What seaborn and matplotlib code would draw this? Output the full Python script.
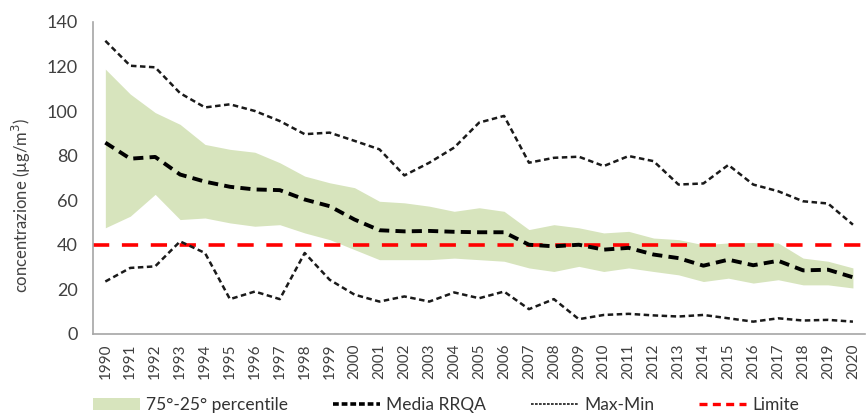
import numpy as np
import pandas as pd
import matplotlib
matplotlib.use("Agg")
import matplotlib.pyplot as plt
from matplotlib.patches import Patch
from matplotlib.lines import Line2D
import seaborn as sns

# Annual NO2 concentrations across the regional monitoring network (µg/m³)
years = list(range(1990, 2021))
media = [85.8, 78.6, 79.4, 71.5, 68.3, 66.0, 64.8, 64.5, 60.3, 57.3, 51.3, 46.5, 46.0,
         46.2, 45.8, 45.6, 45.6, 40.0, 39.3, 40.0, 37.8, 38.6, 35.6, 34.0, 30.6,
         33.3, 30.8, 32.8, 28.5, 28.8, 25.4]
p75 = [118.8, 107.6, 99.3, 94.0, 85.0, 82.8, 81.5, 76.8, 70.8, 67.8, 65.6, 59.5, 58.8,
       57.3, 55.0, 56.6, 55.0, 46.8, 49.0, 47.6, 45.3, 46.0, 43.0, 42.3, 40.0,
       40.8, 41.0, 40.8, 34.0, 32.6, 29.6]
p25 = [47.6, 52.8, 62.6, 51.3, 52.0, 49.8, 48.3, 49.0, 45.3, 42.3, 37.8, 33.3, 33.3,
       33.3, 34.0, 33.3, 32.6, 29.6, 28.0, 30.3, 28.0, 29.6, 28.0, 26.5, 23.5,
       25.0, 22.8, 24.3, 22.0, 22.0, 20.6]
massimo = [131.5, 120.3, 119.6, 108.0, 101.6, 103.0, 100.0, 95.5, 89.6, 90.3, 86.6, 82.8, 71.1,
           76.8, 83.6, 94.8, 97.8, 76.8, 79.0, 79.5, 75.3, 79.8, 77.5, 67.0, 67.5,
           75.8, 67.0, 64.0, 59.5, 58.5, 49.0]
minimo = [23.5, 29.6, 30.3, 41.5, 36.3, 15.6, 19.0, 15.6, 36.3, 24.3, 17.6, 14.5, 16.8,
          14.5, 18.6, 16.0, 19.0, 11.1, 15.6, 6.6, 8.5, 9.0, 8.3, 7.8, 8.5,
          7.0, 5.5, 7.0, 6.0, 6.3, 5.5]
limite = 40

df = pd.DataFrame({"anno": years, "pos": np.arange(len(years)), "media": media,
                   "p75": p75, "p25": p25, "max": massimo, "min": minimo})

sns.set_theme(style="white")
plt.rcParams["font.family"] = ["Lato", "DejaVu Sans"]

fig = plt.figure(figsize=(8.68, 4.2), dpi=100)
ax = fig.add_axes([0.107, 0.205, 0.89, 0.743])

band_color = "#d7e4bd"
ax.fill_between(df["pos"], df["p25"], df["p75"], color=band_color, lw=0, zorder=1)

sns.lineplot(data=df, x="pos", y="max", ax=ax, color="#1a1a1a", lw=1.8,
             zorder=3).lines[-1].set_dashes([2.2, 1.4])
sns.lineplot(data=df, x="pos", y="min", ax=ax, color="#1a1a1a", lw=1.8,
             zorder=3).lines[-1].set_dashes([2.2, 1.4])
ax.axhline(limite, color="#ff0000", lw=2.6, dashes=[4.5, 3.5], zorder=2)
sns.lineplot(data=df, x="pos", y="media", ax=ax, color="black", lw=2.8,
             zorder=4).lines[-1].set_dashes([2.6, 1.6])

ax.set_xlim(-0.5, len(years) - 0.5)
ax.set_ylim(0, 140)
ax.set_yticks(np.arange(0, 141, 20))
ax.set_xticks(df["pos"])
ax.set_xticklabels([str(y) for y in years], rotation=90, fontsize=11, color="#404040")
ax.set_xticks(np.arange(-0.5, len(years), 1), minor=True)
ax.tick_params(axis="x", which="major", length=0, pad=7)
ax.tick_params(axis="x", which="minor", length=5, width=1.2, color="#a6a6a6", direction="out")
ax.tick_params(axis="y", length=5, width=1.2, color="#a6a6a6", direction="out",
               labelsize=13, labelcolor="#404040", pad=6)
ax.set_xlabel("")
ax.set_ylabel("concentrazione (µg/m$^3$)", fontsize=12, color="#404040")
ax.yaxis.set_label_coords(-0.077, 0.41)

for s in ["top", "right"]:
    ax.spines[s].set_visible(False)
for s in ["left", "bottom"]:
    ax.spines[s].set_color("#a6a6a6")
    ax.spines[s].set_linewidth(1.2)

handles = [
    Patch(facecolor=band_color, edgecolor="none", label="75°-25° percentile"),
    Line2D([], [], color="black", lw=2.6, dashes=[1.6, 0.8], label="Media RRQA"),
    Line2D([], [], color="#1a1a1a", lw=1.2, dashes=[1.6, 0.8], label="Max-Min"),
    Line2D([], [], color="#ff0000", lw=2.4, dashes=[2.4, 1.6], label="Limite"),
]
fig.legend(handles=handles, loc="center", bbox_to_anchor=(0.514, 0.036), ncol=4,
           frameon=False, handlelength=2.7, handletextpad=0.35,
           columnspacing=2.6, labelcolor="#333333",
           prop={"family": ["Lato", "DejaVu Sans"], "size": 12.5})

fig.savefig("out.png", dpi=100, facecolor="white")
